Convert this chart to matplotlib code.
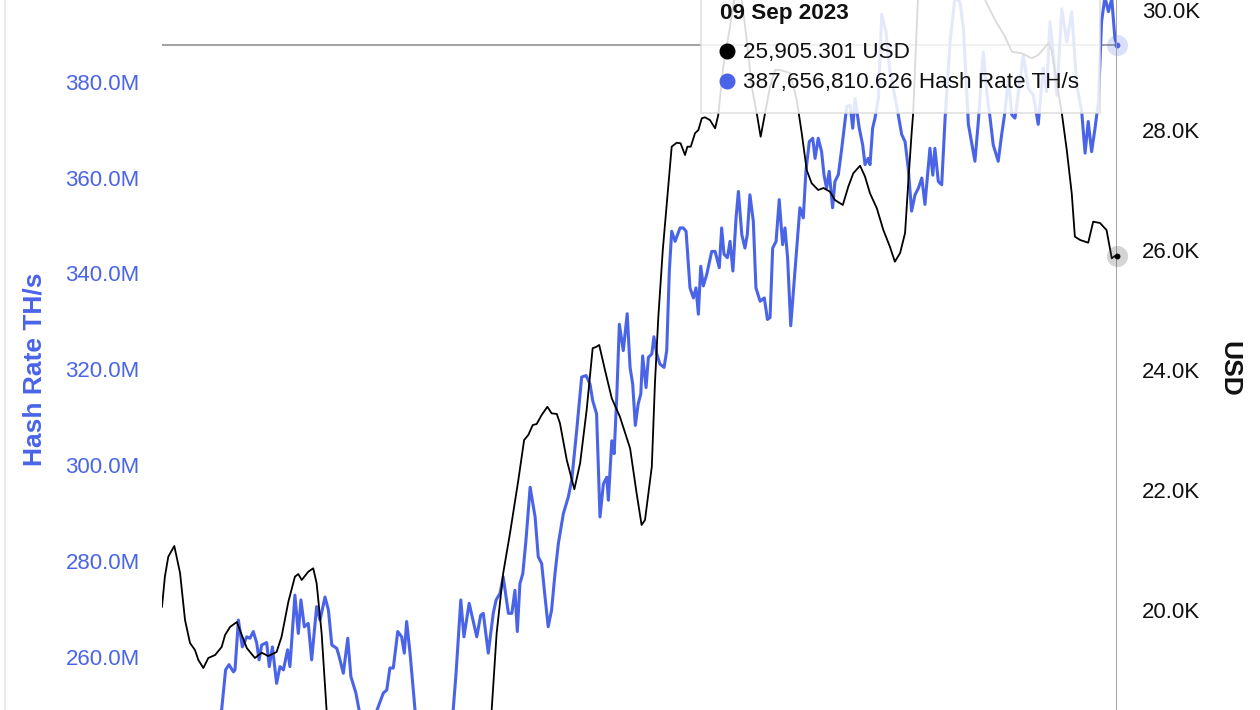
import matplotlib
matplotlib.use("Agg")
import matplotlib.pyplot as plt
from matplotlib.patches import Rectangle
from matplotlib.lines import Line2D
from matplotlib.ticker import FuncFormatter

plt.rcParams['font.family'] = ['Liberation Sans', 'DejaVu Sans']

# days since 09 Sep 2022, hash rate in millions of TH/s
hash_days = [0.0, 10.7, 22.8, 24.3, 25.6, 27.3, 27.9, 29.2, 30.7, 32.4, 33.6, 34.9, 36.2, 37.1, 38.1, 40.0,
             41.0, 42.2, 43.8, 45.1, 46.4, 48.0, 48.9, 50.8, 52.1, 53.1, 54.4, 55.9, 57.2, 59.1, 60.4, 62.3,
             63.6, 64.9, 66.8, 67.7, 69.3, 71.0, 72.2, 74.1, 75.3, 77.6, 80.3, 82.7, 84.6, 85.9, 87.1, 88.4,
             90.1, 91.6, 92.6, 93.5, 94.8, 96.7, 99.4, 104.3, 108.2, 111.3, 112.4, 114.2, 115.4, 117.4, 120.3,
             121.8, 122.8, 124.7, 126.6, 127.7, 129.2, 130.4, 132.4, 133.7, 134.9, 135.8, 136.8, 137.9, 139.1,
             140.7, 142.6, 143.8, 145.1, 146.4, 147.6, 148.9, 150.2, 151.5, 153.4, 155.3, 156.6, 158.5, 160.4,
             162.1, 163.6, 164.6, 166.1, 167.4, 168.7, 170.0, 170.6, 171.9, 172.8, 173.8, 174.8, 176.3, 177.8,
             178.9, 179.9, 180.9, 182.0, 183.0, 183.7, 185.0, 185.9, 187.2, 188.0, 189.1, 190.3, 191.9, 192.9,
             193.9, 194.8, 196.1, 198.0, 199.2, 200.3, 201.8, 203.1, 204.1, 205.0, 205.9, 206.9, 208.2, 210.1,
             211.4, 213.0, 213.9, 214.8, 216.1, 217.1, 218.2, 219.4, 220.3, 221.6, 222.8, 223.7, 224.7, 226.0,
             227.0, 228.6, 230.2, 231.4, 232.4, 233.4, 234.7, 235.9, 237.2, 238.1, 239.1, 240.3, 241.6, 242.6,
             243.8, 245.1, 246.1, 247.4, 248.7, 249.6, 250.8, 252.1, 253.0, 254.0, 255.0, 256.3, 257.2, 258.5,
             259.8, 260.7, 261.7, 263.0, 264.0, 264.9, 266.5, 267.8, 268.7, 269.9, 270.6, 271.6, 272.5, 273.8,
             275.1, 276.7, 278.2, 279.5, 281.4, 282.7, 284.0, 285.2, 286.5, 287.8, 289.1, 290.4, 291.6, 293.5,
             294.6, 295.4, 296.7, 298.0, 299.3, 301.2, 303.1, 305.0, 306.3, 308.2, 310.7, 312.0, 313.9, 315.2,
             316.5, 317.7, 319.6, 320.9, 322.2, 323.5, 324.8, 326.0, 327.9, 329.2, 331.1, 333.0, 334.9, 336.8,
             338.1, 339.4, 340.7, 342.0, 343.9, 345.8, 347.7, 349.6, 351.5, 352.8, 354.0, 355.3, 356.6, 357.9,
             359.1, 360.4, 361.7, 363.0, 364.2, 365.0]
hash_vals = [239.0, 241.0, 249.0, 257.3, 258.4, 256.9, 257.3, 267.7, 262.1, 264.2, 263.9, 265.3, 262.9, 259.4,
             262.5, 263.0, 258.0, 262.1, 254.5, 258.0, 257.3, 261.5, 258.0, 272.9, 264.9, 271.9, 266.3, 267.0,
             259.4, 270.5, 267.7, 272.5, 269.8, 262.5, 261.8, 260.1, 256.6, 263.9, 255.9, 252.5, 249.0, 245.0,
             246.0, 249.7, 252.5, 253.1, 257.7, 257.7, 265.3, 264.2, 260.8, 267.4, 260.8, 249.0, 243.0, 241.0,
             244.0, 249.0, 256.7, 271.9, 264.2, 271.2, 264.2, 268.7, 269.1, 260.8, 269.1, 271.9, 273.3, 276.7,
             269.1, 269.1, 273.9, 265.3, 275.3, 277.4, 284.3, 295.4, 289.2, 280.9, 279.5, 272.5, 266.3, 269.8,
             277.4, 283.7, 289.9, 293.4, 296.9, 307.3, 318.4, 318.7, 316.9, 313.5, 310.7, 289.2, 296.1, 297.5,
             292.7, 305.1, 302.4, 314.1, 329.4, 323.9, 331.6, 320.4, 316.9, 308.3, 312.8, 314.9, 322.8, 316.2,
             322.5, 323.2, 326.8, 323.2, 321.1, 320.4, 323.9, 340.5, 348.8, 346.7, 349.5, 349.5, 348.8, 337.0,
             334.9, 337.0, 331.5, 341.5, 337.4, 339.8, 344.6, 344.6, 341.2, 349.5, 344.0, 343.3, 346.7, 340.5,
             351.6, 357.1, 348.1, 345.3, 348.1, 356.4, 350.9, 337.0, 334.2, 334.9, 330.4, 330.8, 345.3, 346.7,
             355.4, 346.0, 349.5, 343.3, 329.1, 338.4, 345.3, 353.7, 351.6, 361.3, 367.5, 368.2, 364.0, 368.2,
             365.4, 360.6, 357.8, 361.3, 353.7, 359.2, 360.6, 366.1, 370.3, 374.8, 375.1, 370.3, 376.5, 370.3,
             366.8, 362.7, 364.0, 362.7, 370.3, 372.4, 376.5, 394.1, 390.4, 382.1, 378.6, 373.1, 369.0, 367.5,
             362.0, 353.0, 356.4, 357.8, 359.9, 354.4, 366.1, 360.5, 366.1, 359.2, 358.5, 372.4, 388.3, 397.7,
             396.6, 391.1, 371.1, 363.4, 371.7, 386.2, 377.9, 372.4, 366.8, 363.4, 368.9, 373.8, 380.7, 373.1,
             372.4, 380.0, 385.5, 378.6, 377.2, 371.1, 382.8, 377.9, 392.5, 385.5, 377.2, 395.2, 388.3, 394.6,
             379.3, 373.8, 365.1, 371.7, 365.4, 370.3, 375.8, 392.5, 397.7, 394.6, 397.3, 389.0, 387.657]

# days since 09 Sep 2022, BTC price in USD (smoothed line)
usd_days = [0.0, 1.1, 2.4, 4.7, 6.9, 8.8, 10.7, 12.6, 13.9, 15.8, 17.7, 20.3, 22.8, 24.1, 26.0, 28.6, 30.5,
            32.4, 35.5, 38.1, 40.6, 43.8, 45.7, 48.3, 50.8, 52.1, 53.4, 55.9, 57.8, 59.1, 61.0, 62.9, 66.1,
            71.9, 79.5, 91.0, 102.4, 113.9, 121.5, 126.0, 127.9, 130.4, 133.0, 136.2, 138.4, 140.0, 141.7,
            143.2, 145.1, 147.3, 148.9, 150.9, 152.1, 154.7, 157.6, 159.8, 162.3, 164.6, 166.1, 167.1, 169.3,
            171.9, 175.0, 178.9, 181.4, 183.3, 184.6, 187.2, 188.4, 189.7, 191.4, 193.5, 194.8, 196.7, 198.2,
            199.9, 200.8, 202.1, 203.7, 205.0, 206.3, 207.5, 209.4, 211.4, 212.6, 214.5, 217.1, 219.0, 220.9,
            223.5, 225.4, 227.3, 228.8, 230.5, 232.4, 234.3, 236.2, 240.0, 242.6, 244.5, 246.4, 248.3, 250.8,
            252.8, 255.3, 257.2, 260.2, 262.3, 264.2, 266.8, 268.7, 270.6, 273.2, 275.7, 278.2, 280.1, 282.1,
            284.0, 285.2, 286.5, 287.1, 288.9, 291.6, 299.3, 306.9, 312.6, 314.6, 318.4, 322.2, 324.8, 328.6,
            332.4, 334.9, 338.8, 340.0, 342.0, 343.9, 345.8, 347.7, 348.9, 350.9, 354.0, 355.9, 358.5, 361.0,
            363.0, 364.2, 365.0]
usd_vals = [20055, 20555, 20888, 21067, 20617, 19833, 19450, 19333, 19167, 19033, 19200, 19250, 19383, 19583,
            19717, 19800, 19583, 19367, 19200, 19288, 19233, 19300, 19555, 20138, 20555, 20600, 20500, 20638,
            20695, 20445, 19617, 18333, 17800, 16900, 16600, 16800, 16900, 16800, 17400, 18333, 19612, 20612,
            21278, 22167, 22833, 22917, 23083, 23100, 23250, 23388, 23278, 23267, 23112, 22500, 22012, 22445,
            23333, 24362, 24388, 24417, 24000, 23528, 23222, 22695, 21945, 21417, 21500, 22388, 23778, 24888,
            26000, 27055, 27722, 27788, 27778, 27583, 27722, 27722, 27945, 28000, 28195, 28212, 28167, 28028,
            28250, 29055, 29722, 30250, 30417, 29500, 28722, 28283, 27888, 28283, 28722, 29000, 29000, 28950,
            28500, 27950, 27333, 27112, 27000, 27033, 26972, 26833, 26750, 27055, 27278, 27405, 27222, 26945,
            26695, 26333, 26055, 25805, 25950, 26283, 27112, 27945, 28283, 30167, 30600, 31000, 30833, 30417,
            30167, 29833, 29555, 29305, 29278, 29195, 29250, 29445, 29333, 28778, 28283, 27667, 26945, 26222,
            26167, 26122, 26472, 26450, 26333, 25862, 25900, 25905.301]

hash_ticks = [260, 280, 300, 320, 340, 360, 380]
usd_ticks = [20000, 22000, 24000, 26000, 28000, 30000]

BLUE = '#4a64e8'
W, H = 1260, 710

fig = plt.figure(figsize=(12.6, 7.1), dpi=100)
ax = fig.add_axes([162 / W, 0, 955 / W, 1])
ax2 = ax.twinx()

ax.plot(hash_days, hash_vals, color=BLUE, lw=2.2, solid_joinstyle='round', zorder=2)
ax2.plot(usd_days, usd_vals, color='black', lw=1.3, solid_joinstyle='round', zorder=2)

ax.set_xlim(0, 365)
ax.set_ylim(248.94, 397.04)
ax2.set_ylim(18333.3, 30166.7)

ax.set_yticks(hash_ticks)
ax.yaxis.set_major_formatter(FuncFormatter(lambda v, p: f"{v:.1f}M"))
ax2.set_yticks(usd_ticks)
ax2.yaxis.set_major_formatter(FuncFormatter(lambda v, p: f"{v / 1000:.1f}K"))

for a in (ax, ax2):
    for s in a.spines.values():
        s.set_visible(False)
    a.tick_params(axis='x', bottom=False, labelbottom=False)
ax.tick_params(axis='y', length=0, pad=16, labelsize=16, labelcolor=BLUE)
ax2.tick_params(axis='y', length=0, pad=18, labelsize=16, labelcolor='#111111')

ax.set_ylabel('Hash Rate TH/s', color=BLUE, fontsize=19, fontweight='bold', ha='center', va='center')
ax.yaxis.set_label_coords(-0.133, 0.48)
ax2.set_ylabel('USD', color='#111111', fontsize=19, fontweight='bold', rotation=270, ha='center', va='center')
ax2.yaxis.set_label_coords(1.118, 0.48)

# crosshair at the hovered point
ax.axhline(hash_vals[-1], color='#9a9a9a', lw=1.3, zorder=1)
ax2.axvline(usd_days[-1], color='#9a9a9a', lw=1.3, zorder=1)
ax.scatter([hash_days[-1]], [hash_vals[-1]], s=230, color=BLUE, alpha=0.2, linewidths=0, clip_on=False, zorder=5)
ax.scatter([hash_days[-1]], [hash_vals[-1]], s=18, color=BLUE, linewidths=0, clip_on=False, zorder=6)
ax2.scatter([usd_days[-1]], [usd_vals[-1]], s=230, color='#555555', alpha=0.25, linewidths=0, clip_on=False, zorder=5)
ax2.scatter([usd_days[-1]], [usd_vals[-1]], s=18, color='black', linewidths=0, clip_on=False, zorder=6)

# tooltip
fig.add_artist(Rectangle((701 / W, 1 - 113 / H), (1100 - 701) / W, 0.3, transform=fig.transFigure,
                         facecolor='white', alpha=0.86, edgecolor='#dcdcdc', lw=1.2, zorder=10))
fig.text(720 / W, 1 - 14 / H, '09 Sep 2023', fontsize=16.2, fontweight='bold', color='#111111',
         va='center', zorder=11)
fig.add_artist(Line2D([727.5 / W], [1 - 51 / H], marker='o', ms=10.5, color='black', lw=0,
                      transform=fig.transFigure, zorder=11))
fig.text(743 / W, 1 - 52.5 / H, '25,905.301 USD', fontsize=16.2, color='#111111', va='center', zorder=11)
fig.add_artist(Line2D([727.5 / W], [1 - 81 / H], marker='o', ms=10.5, color=BLUE, lw=0,
                      transform=fig.transFigure, zorder=11))
fig.text(743 / W, 1 - 82.5 / H, '387,656,810.626 Hash Rate TH/s', fontsize=16.2, color='#111111',
         va='center', zorder=11)

# panel border on the left
fig.add_artist(Line2D([5 / W, 5 / W], [0, 1], color='#ebebeb', lw=1.5, transform=fig.transFigure))

fig.savefig('out.png', dpi=100)
